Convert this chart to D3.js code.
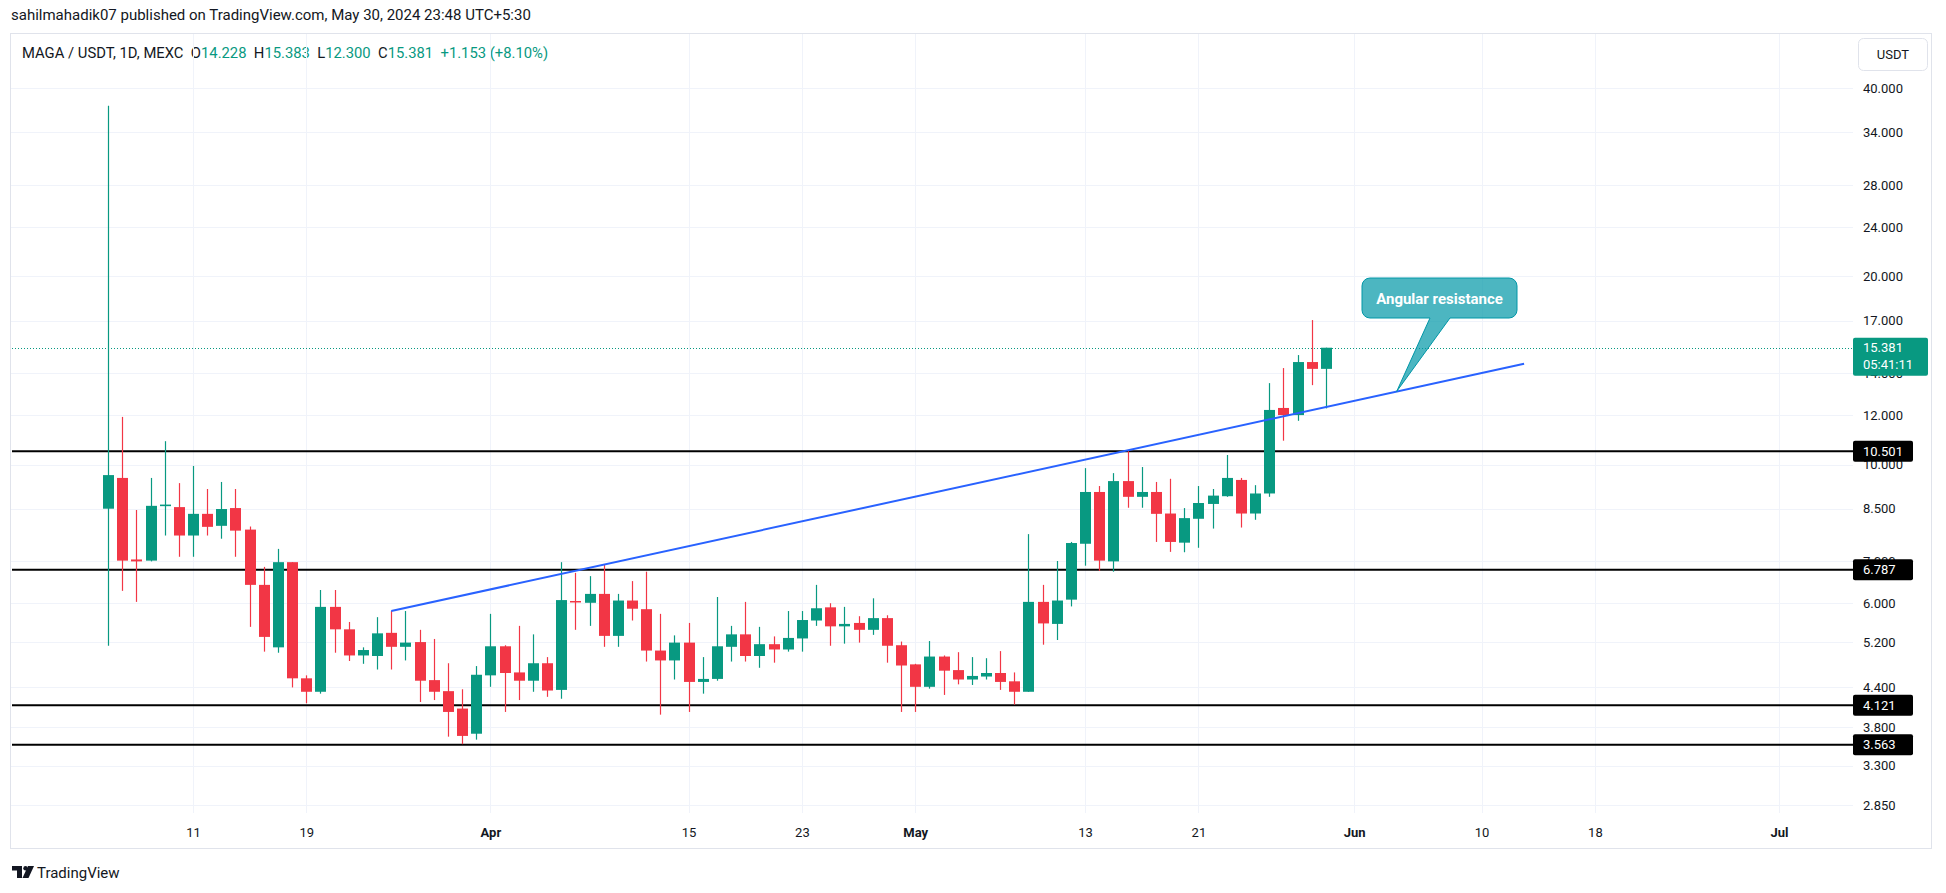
<!DOCTYPE html>
<html><head><meta charset="utf-8">
<script src="https://cdn.jsdelivr.net/npm/d3@7"></script>
<style>
html,body{margin:0;padding:0;background:#fff;}
svg text{font-family:Roboto,"Noto Sans",sans-serif;}
</style></head>
<body>
<svg id="c" width="1946" height="893"></svg>
<script>
// ---------- data ----------
const dates = [
"2024-03-05","2024-03-06","2024-03-07","2024-03-08","2024-03-09","2024-03-10","2024-03-11","2024-03-12","2024-03-13","2024-03-14",
"2024-03-15","2024-03-16","2024-03-17","2024-03-18","2024-03-19","2024-03-20","2024-03-21","2024-03-22","2024-03-23","2024-03-24",
"2024-03-25","2024-03-26","2024-03-27","2024-03-28","2024-03-29","2024-03-30","2024-03-31",
"2024-04-01","2024-04-02","2024-04-03","2024-04-04","2024-04-05","2024-04-06","2024-04-07","2024-04-08","2024-04-09","2024-04-10",
"2024-04-11","2024-04-12","2024-04-13","2024-04-14","2024-04-15","2024-04-16","2024-04-17","2024-04-18","2024-04-19","2024-04-20",
"2024-04-21","2024-04-22","2024-04-23","2024-04-24","2024-04-25","2024-04-26","2024-04-27","2024-04-28","2024-04-29","2024-04-30",
"2024-05-01","2024-05-02","2024-05-03","2024-05-04","2024-05-05","2024-05-06","2024-05-07","2024-05-08","2024-05-09","2024-05-10",
"2024-05-11","2024-05-12","2024-05-13","2024-05-14","2024-05-15","2024-05-16","2024-05-17","2024-05-18","2024-05-19","2024-05-20",
"2024-05-21","2024-05-22","2024-05-23","2024-05-24","2024-05-25","2024-05-26","2024-05-27","2024-05-28","2024-05-29","2024-05-30"];
const opens = [
8.50,9.52,7.05,7.02,8.58,8.55,7.70,8.34,7.98,8.52,
7.87,6.42,5.10,6.98,4.55,4.33,5.92,5.45,4.95,4.94,
5.38,5.11,5.20,4.52,4.34,4.07,3.71,
4.60,5.12,4.65,4.51,4.81,4.36,6.05,6.01,6.21,5.32,
6.06,5.87,5.04,4.86,5.19,4.49,4.54,5.11,5.35,4.94,
5.16,5.06,5.27,5.63,5.91,5.51,5.58,5.44,5.68,5.14,
4.79,4.41,4.93,4.69,4.53,4.58,4.64,4.50,4.33,6.03,
5.56,6.08,7.47,9.04,7.00,9.41,8.88,9.04,8.35,7.50,
8.19,8.65,8.90,9.45,8.35,8.99,12.32,12.00,14.59,14.228];
const highs = [
37.5,11.92,8.46,9.52,10.90,9.34,9.95,9.14,9.38,9.14,
7.96,6.86,7.33,6.98,4.60,6.30,6.30,5.60,5.10,5.70,
5.83,5.83,5.44,5.26,4.81,4.37,4.76,
5.77,5.14,5.52,5.35,4.92,6.98,6.71,6.63,6.91,6.21,
6.51,6.74,5.77,5.33,5.58,4.92,6.14,5.52,6.03,5.50,
5.31,5.83,5.83,6.42,6.00,5.92,5.72,6.11,5.74,5.21,
4.80,5.22,4.95,5.01,4.92,4.90,5.03,4.65,7.74,6.42,
7.01,7.52,9.87,9.24,9.69,10.51,9.91,9.38,9.49,8.52,
9.24,9.14,10.36,9.52,9.27,13.50,14.27,14.97,17.03,15.383];
const lows = [
5.13,6.28,6.03,7.00,7.70,7.12,7.12,7.70,7.61,7.12,
5.50,5.02,5.00,4.40,4.15,4.30,5.00,4.85,4.80,4.70,
4.70,4.86,4.17,4.20,3.67,3.57,3.63,
4.41,4.02,4.20,4.33,4.25,4.22,5.44,5.52,5.11,5.11,
5.63,4.84,3.98,4.53,4.02,4.30,4.51,4.84,4.84,4.73,
4.82,5.02,5.02,5.52,5.13,5.17,5.19,5.34,4.82,4.02,
4.02,4.38,4.28,4.45,4.44,4.53,4.36,4.13,4.33,5.15,
5.24,5.93,6.89,6.76,6.74,8.53,8.53,7.52,7.25,7.24,
7.36,7.90,8.88,7.93,8.16,8.88,10.92,11.75,13.40,12.300];
const closes = [
9.62,7.02,7.00,8.59,8.63,7.70,8.34,7.95,8.49,7.84,
6.42,5.30,6.98,4.55,4.33,5.92,5.45,4.95,5.05,5.37,
5.11,5.19,4.51,4.33,4.02,3.68,4.61,
5.12,4.64,4.51,4.81,4.35,6.07,6.02,6.21,5.32,6.06,
5.88,5.04,4.86,5.19,4.49,4.54,5.12,5.35,4.94,5.16,
5.06,5.28,5.64,5.89,5.51,5.56,5.44,5.68,5.13,4.77,
4.41,4.93,4.68,4.53,4.59,4.64,4.49,4.33,6.03,5.57,
6.06,7.49,9.04,7.02,9.41,8.88,9.04,8.34,7.52,8.21,
8.68,8.92,9.52,8.35,8.99,12.23,12.00,14.59,14.228,15.381];

const priceTicks = [40,34,28,24,20,17,14,12,10,8.5,7,6,5.2,4.4,3.8,3.3,2.85];
const dateTicks = ["2024-03-11","2024-03-19","2024-04-01","2024-04-15","2024-04-23","2024-05-01","2024-05-13","2024-05-21","2024-06-01","2024-06-10","2024-06-18","2024-07-01"];
const dateTickLabels = ["11","19","Apr","15","23","May","13","21","Jun","10","18","Jul"];
const levels = [10.501, 6.787, 4.121, 3.563];
const levelLabels = ["10.501","6.787","4.121","3.563"];
const trendDates = ["2024-03-25","2024-06-13"];
const trendValues = [5.83, 14.50];
const lastPrice = 15.381;
const lastPriceLabel = "15.381";
const countdownLabel = "05:41:11";
const calloutText = "Angular resistance";
const calloutDate = "2024-06-04";
const calloutValue = 13.09;
const headerText = "sahilmahadik07 published on TradingView.com, May 30, 2024 23:48 UTC+5:30";
const legendParts = [["MAGA / USDT, 1D, MEXC  ","#131722"],["O","#131722"],["14.228  ","#089981"],["H","#131722"],["15.383  ","#089981"],["L","#131722"],["12.300  ","#089981"],["C","#131722"],["15.381  ","#089981"],["+1.153 (+8.10%)","#089981"]];

// ---------- setup ----------
const UP = "#089981", DOWN = "#F23645";
const svg = d3.select("#c");
const parse = d3.utcParse("%Y-%m-%d");
const plot = {left:10, right:1853, top:33, bottom:813};

const x = d3.scaleUtc().domain([parse("2024-03-11"), parse("2024-07-01")]).range([193, 1779]);
const y = d3.scaleLog().domain([40, 2.85]).range([88.3, 805.3]);

// panel border
svg.append("rect").attr("x",10.5).attr("y",33.5).attr("width",1921).attr("height",815)
  .attr("fill","none").attr("stroke","#e0e3eb").attr("stroke-width",1);

// header
svg.append("text").attr("x",11).attr("y",20).attr("font-size",15).attr("fill","#131722").text(headerText);

// legend
const lg = svg.append("text").attr("x",22).attr("y",58).attr("font-size",14.8).attr("xml:space","preserve");
legendParts.forEach(p => lg.append("tspan").attr("fill",p[1]).text(p[0]));

// clip
svg.append("clipPath").attr("id","pc").append("rect")
  .attr("x",plot.left+1).attr("y",plot.top+1).attr("width",plot.right-plot.left-1).attr("height",plot.bottom-plot.top-1);
const g = svg.append("g").attr("clip-path","url(#pc)");

// grid
g.selectAll(".hg").data(priceTicks).join("line")
  .attr("x1",plot.left).attr("x2",plot.right)
  .attr("y1",d=>Math.round(y(d))+0.5).attr("y2",d=>Math.round(y(d))+0.5)
  .attr("stroke","#f0f3fa").attr("stroke-width",1);
g.selectAll(".vg").data(dateTicks).join("line")
  .attr("y1",plot.top).attr("y2",plot.bottom)
  .attr("x1",d=>Math.round(x(parse(d)))+0.5).attr("x2",d=>Math.round(x(parse(d)))+0.5)
  .attr("stroke","#f0f3fa").attr("stroke-width",1);

// support / resistance levels
g.selectAll(".lv").data(levels).join("line")
  .attr("x1",12).attr("x2",plot.right)
  .attr("y1",d=>y(d)).attr("y2",d=>y(d))
  .attr("stroke","#000").attr("stroke-width",2);

// last price dotted line
g.append("line").attr("x1",12).attr("x2",plot.right).attr("y1",Math.round(y(lastPrice))+0.5).attr("y2",Math.round(y(lastPrice))+0.5)
  .attr("stroke",UP).attr("stroke-width",1).attr("stroke-dasharray","1 2");

// candles
const candles = dates.map((d,i)=>({t:parse(d),o:opens[i],h:highs[i],l:lows[i],c:closes[i]}));
const bw = 11;
const cg = g.append("g");
cg.selectAll(".wick").data(candles).join("line")
  .attr("x1",d=>Math.round(x(d.t))+0.5).attr("x2",d=>Math.round(x(d.t))+0.5)
  .attr("y1",d=>y(d.h)).attr("y2",d=>y(d.l))
  .attr("stroke",d=>d.c>=d.o?UP:DOWN).attr("stroke-width",1.2);
cg.selectAll(".body").data(candles).join("rect")
  .attr("x",d=>Math.round(x(d.t))-5).attr("width",bw)
  .attr("y",d=>y(Math.max(d.o,d.c)))
  .attr("height",d=>Math.max(1.5, y(Math.min(d.o,d.c))-y(Math.max(d.o,d.c))))
  .attr("fill",d=>d.c>=d.o?UP:DOWN);

// trend line
g.append("line")
  .attr("x1",x(parse(trendDates[0]))).attr("y1",y(trendValues[0]))
  .attr("x2",x(parse(trendDates[1]))).attr("y2",y(trendValues[1]))
  .attr("stroke","#2962FF").attr("stroke-width",2);

// callout
const tipX = x(parse(calloutDate)), tipY = y(calloutValue);
const bx0 = 1362, bx1 = 1517, by0 = 278, by1 = 318, r = 8;
const px0 = 1430, px1 = 1450;
const cp = d3.path();
cp.moveTo(bx0+r,by0); cp.lineTo(bx1-r,by0); cp.arcTo(bx1,by0,bx1,by0+r,r);
cp.lineTo(bx1,by1-r); cp.arcTo(bx1,by1,bx1-r,by1,r);
cp.lineTo(px1,by1); cp.lineTo(tipX,tipY); cp.lineTo(px0,by1);
cp.lineTo(bx0+r,by1); cp.arcTo(bx0,by1,bx0,by1-r,r);
cp.lineTo(bx0,by0+r); cp.arcTo(bx0,by0,bx0+r,by0,r); cp.closePath();
svg.append("path").attr("d",cp.toString()).attr("fill","rgba(0,151,167,0.7)").attr("stroke","#0097A7").attr("stroke-width",1);
svg.append("text").attr("x",(bx0+bx1)/2).attr("y",303.5).attr("text-anchor","middle")
  .attr("font-size",15).attr("font-weight","bold").attr("fill","#fff").text(calloutText);

// price axis
const ya = svg.append("g").attr("transform",`translate(${plot.right},0)`)
  .call(d3.axisRight(y).tickValues(priceTicks).tickFormat(d3.format(".3f")).tickSize(0).tickPadding(10));
ya.select(".domain").remove();
ya.selectAll("text").attr("font-size",13).attr("fill","#131722").style("font-family","Roboto,'Noto Sans',sans-serif");

// USDT box
svg.append("rect").attr("x",1858.5).attr("y",38.5).attr("width",69).attr("height",32).attr("rx",5)
  .attr("fill","#fff").attr("stroke","#e0e3eb");
svg.append("text").attr("x",1893).attr("y",59).attr("text-anchor","middle").attr("font-size",13).attr("fill","#131722").text("USDT");

// level labels
levels.forEach((v,i)=>{
  const yy = y(v);
  svg.append("rect").attr("x",plot.right).attr("y",yy-10.5).attr("width",60).attr("height",21).attr("rx",2).attr("fill","#000");
  svg.append("text").attr("x",plot.right+10).attr("y",yy+4.5).attr("font-size",13).attr("fill","#fff").text(levelLabels[i]);
});

// last price label
const ly = y(lastPrice);
svg.append("rect").attr("x",plot.right).attr("y",ly-10).attr("width",75).attr("height",38).attr("rx",2).attr("fill",UP);
svg.append("text").attr("x",plot.right+10).attr("y",ly+4.5).attr("font-size",13).attr("fill","#fff").text(lastPriceLabel);
svg.append("text").attr("x",plot.right+10).attr("y",ly+21).attr("font-size",13).attr("fill","#fff").text(countdownLabel);

// time axis
const xa = svg.append("g").attr("transform",`translate(0,${plot.bottom})`)
  .call(d3.axisBottom(x).tickValues(dateTicks.map(parse)).tickSize(0).tickPadding(15)
     .tickFormat((d,i)=>dateTickLabels[i]));
xa.select(".domain").remove();
xa.selectAll("text").attr("font-size",13).attr("fill","#131722")
  .style("font-family","Roboto,'Noto Sans',sans-serif")
  .attr("font-weight",(d,i)=>/^[A-Z]/.test(dateTickLabels[i])?"bold":"normal");

// TradingView logo
const lgG = svg.append("g").attr("fill","#131722");
lgG.append("rect").attr("x",12).attr("y",866).attr("width",10).attr("height",4.5);
lgG.append("rect").attr("x",17).attr("y",866).attr("width",5).attr("height",12);
lgG.append("circle").attr("cx",25.5).attr("cy",868.2).attr("r",2.2);
lgG.append("path").attr("d","M28,866 L34,866 L28.5,878 L22.5,878 Z");
svg.append("text").attr("x",37).attr("y",877.5).attr("font-size",15).attr("fill","#131722").text("TradingView");
</script>
</body></html>
